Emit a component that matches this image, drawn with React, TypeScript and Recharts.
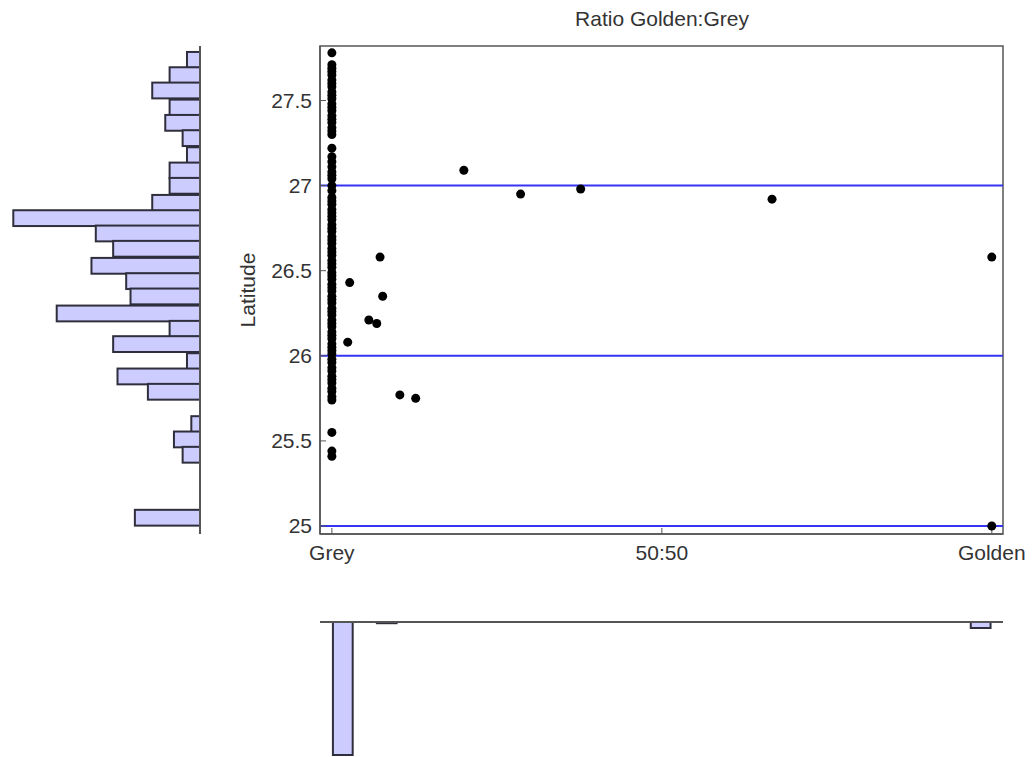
import React from 'react'
import {
  ScatterChart, Scatter, BarChart, Bar, XAxis, YAxis,
  ReferenceLine, ReferenceArea,
} from 'recharts'

// ratio on x: 0 = Grey, 0.5 = 50:50, 1 = Golden
const greyColumn = [
  27.78,
  27.71, 27.69, 27.67, 27.65, 27.62, 27.6, 27.58, 27.55, 27.53, 27.51,
  27.48, 27.46, 27.44, 27.41, 27.39, 27.37, 27.34, 27.32, 27.3,
  27.22, 27.17, 27.14, 27.11, 27.08, 27.06, 27.04, 27.0, 26.97,
  26.93, 26.91, 26.89, 26.86, 26.84, 26.82, 26.8, 26.77, 26.75, 26.73,
  26.7, 26.68, 26.66, 26.63, 26.61, 26.59, 26.56, 26.54, 26.52, 26.49,
  26.47, 26.45, 26.42, 26.4, 26.38, 26.35, 26.33, 26.31, 26.28, 26.26,
  26.24, 26.21, 26.19, 26.17, 26.14, 26.12, 26.1, 26.07, 26.05, 26.03, 26.01,
  25.98, 25.96, 25.93, 25.91, 25.88, 25.86, 25.84, 25.81, 25.79, 25.76, 25.74,
  25.55, 25.44, 25.41,
]
const mixedRatio = [0.2, 0.286, 0.377, 0.667, 1.0, 1.0, 0.027, 0.073, 0.077, 0.056, 0.068, 0.024, 0.103, 0.127]
const mixedLat = [27.09, 26.95, 26.98, 26.92, 26.58, 25.0, 26.43, 26.58, 26.35, 26.21, 26.19, 26.08, 25.77, 25.75]

// left histogram: latitude bins (centre) and counts
const latBins = [
  27.74, 27.65, 27.56, 27.46, 27.37, 27.28, 27.18, 27.09, 27.0, 26.9,
  26.81, 26.72, 26.63, 26.53, 26.44, 26.35, 26.25, 26.16, 26.07, 25.97,
  25.88, 25.79, 25.7, 25.6, 25.51, 25.42, 25.33, 25.23, 25.14, 25.05,
]
const latCounts = [
  3, 7, 11, 7, 8, 4, 3, 7, 7, 11,
  43, 24, 20, 25, 17, 16, 33, 7, 20, 3,
  19, 12, 0, 2, 6, 4, 0, 0, 0, 15,
]

// bottom histogram: ratio bins (centre) and counts
const ratioBins = [
  0.0167, 0.05, 0.0833, 0.1167, 0.15, 0.1833, 0.2167, 0.25, 0.2833, 0.3167,
  0.35, 0.3833, 0.4167, 0.45, 0.4833, 0.5167, 0.55, 0.5833, 0.6167, 0.65,
  0.6833, 0.7167, 0.75, 0.7833, 0.8167, 0.85, 0.8833, 0.9167, 0.95, 0.9833,
]
const ratioCounts = [
  66, 0, 0.6, 0, 0, 0, 0, 0, 0, 0,
  0, 0, 0, 0, 0, 0, 0, 0, 0, 0,
  0, 0, 0, 0, 0, 0, 0, 0, 0, 3,
]

const xTicks = [0, 0.5, 1]
const xTickLabels = ['Grey', '50:50', 'Golden']
const yTicks = [25, 25.5, 26, 26.5, 27, 27.5]
const blueLines = [25, 26, 27]

const X_DOMAIN: [number, number] = [-0.018, 1.017]
const Y_DOMAIN: [number, number] = [24.953, 27.82]
const FONT = '"Liberation Sans", Arial, sans-serif'
const FRAME = '#555'
const HIST_FILL = '#ccccff'
const HIST_STROKE = '#2e2e3c'

const points = [
  ...greyColumn.map(lat => ({ ratio: 0, lat })),
  ...mixedRatio.map((r, i) => ({ ratio: r, lat: mixedLat[i] })),
]
const latData = latBins.map((lat, i) => ({ lat, count: latCounts[i] }))
const ratioData = ratioBins.map((ratio, i) => ({ ratio, count: ratioCounts[i] }))

const Dot = (props: any) => <circle cx={props.cx} cy={props.cy} r={4.5} fill="#000" />

// horizontal bins touch each other, so stretch each rect a little
const HistBar = (props: any) => {
  const { x, y, width, height } = props
  if (!width) return null
  const left = Math.min(x, x + width)
  const w = Math.abs(width)
  const gap = 15.8 - height
  return (
    <rect x={left} y={y - gap / 2} width={w} height={height + gap}
      fill={HIST_FILL} stroke={HIST_STROKE} strokeWidth={2} />
  )
}

export default function App() {
  return (
    <div style={{ position: 'absolute', left: 0, top: 0, width: 1032, height: 757, background: '#fff', fontFamily: FONT }}>
      <div style={{ position: 'absolute', left: 462, top: 7, width: 400, textAlign: 'center', fontSize: 21, color: '#333' }}>
        Ratio Golden:Grey
      </div>

      <div style={{ position: 'absolute', left: 0, top: 0 }}>
        <ScatterChart width={1032} height={600} margin={{ top: 46, right: 29, left: 240, bottom: 26 }}>
          <XAxis
            type="number" dataKey="ratio" domain={X_DOMAIN} ticks={xTicks} height={40}
            tickFormatter={(v: number) => xTickLabels[xTicks.indexOf(v)] ?? ''}
            tick={{ fill: '#333', fontSize: 21, fontFamily: FONT }}
            tickSize={-6} tickMargin={17}
            axisLine={{ stroke: FRAME, strokeWidth: 1.5 }} tickLine={{ stroke: FRAME }}
            allowDataOverflow
          />
          <YAxis
            type="number" dataKey="lat" domain={Y_DOMAIN} ticks={yTicks} width={80}
            tick={{ fill: '#333', fontSize: 21, fontFamily: FONT }}
            tickSize={-6} tickMargin={14}
            axisLine={{ stroke: FRAME, strokeWidth: 1.5 }} tickLine={{ stroke: FRAME }}
            allowDataOverflow
            label={{ value: 'Latitude', angle: -90, position: 'insideLeft', offset: 8, style: { textAnchor: 'middle', fill: '#333', fontSize: 21, fontFamily: FONT } }}
          />
          <ReferenceArea x1={X_DOMAIN[0]} x2={X_DOMAIN[1]} y1={Y_DOMAIN[0]} y2={Y_DOMAIN[1]} fill="none" stroke={FRAME} strokeWidth={1.5} fillOpacity={0} />
          {blueLines.map(v => (
            <ReferenceLine key={v} y={v} stroke="#3434f2" strokeWidth={2} />
          ))}
          <Scatter data={points} shape={<Dot />} isAnimationActive={false} />
        </ScatterChart>
      </div>

      <div style={{ position: 'absolute', left: 0, top: 0 }}>
        <BarChart width={212} height={580} layout="vertical" data={latData} margin={{ top: 46, right: 12, left: 12, bottom: 46 }}>
          <XAxis type="number" dataKey="count" domain={[0, 43.3]} reversed hide />
          <YAxis type="number" dataKey="lat" domain={Y_DOMAIN} reversed hide allowDataOverflow />
          <Bar dataKey="count" barSize={15.8} shape={<HistBar />} isAnimationActive={false} />
          <ReferenceLine x={0} stroke={FRAME} strokeWidth={2} />
        </BarChart>
      </div>

      <div style={{ position: 'absolute', left: 0, top: 600 }}>
        <BarChart width={1032} height={160} data={ratioData} margin={{ top: 22, right: 29, left: 320, bottom: 5 }}>
          <XAxis type="number" dataKey="ratio" domain={X_DOMAIN} hide allowDataOverflow />
          <YAxis type="number" domain={[0, 66]} reversed hide />
          <Bar dataKey="count" barSize={22} fill={HIST_FILL} stroke={HIST_STROKE} strokeWidth={2} isAnimationActive={false} />
          <ReferenceLine y={0} stroke={FRAME} strokeWidth={2} />
        </BarChart>
      </div>
    </div>
  )
}
